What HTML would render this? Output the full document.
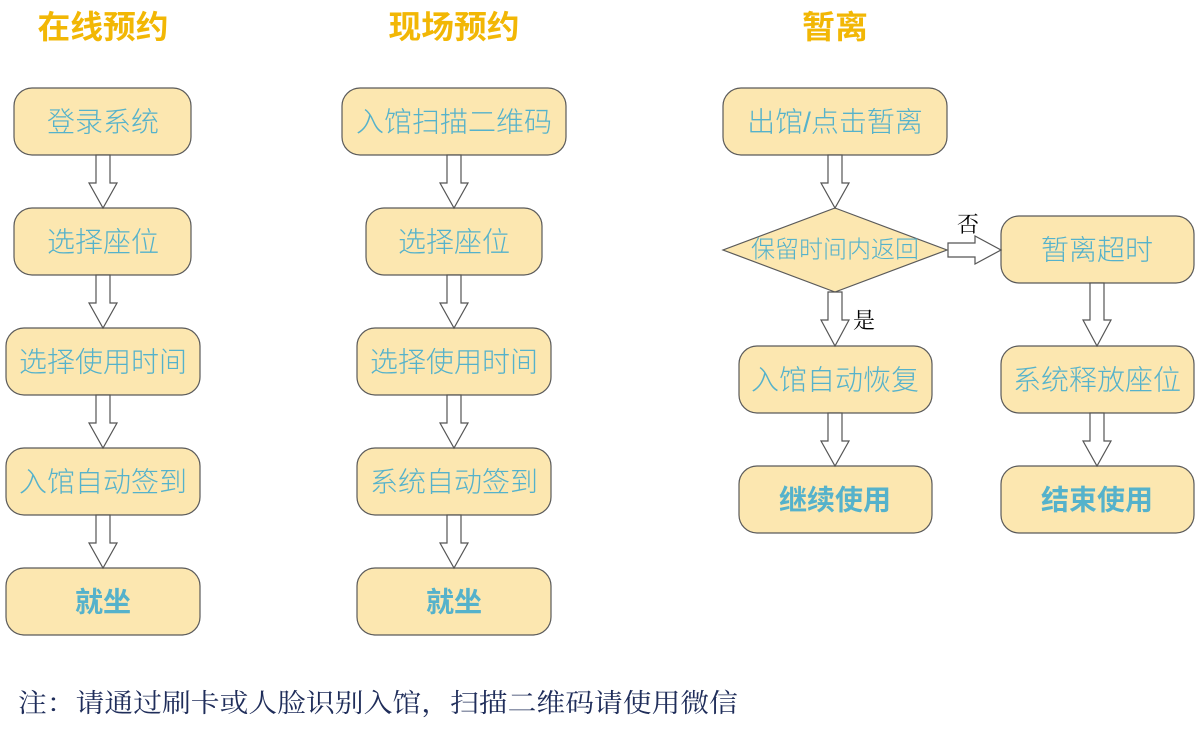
<!DOCTYPE html>
<html><head><meta charset="utf-8"><style>
html,body{margin:0;padding:0;background:#fff;width:1200px;height:732px;overflow:hidden}
svg{display:block}
.n{fill:#fce7b0;stroke:#5a5a5a;stroke-width:1.2}
.t{font-family:"Liberation Sans","Noto Sans CJK SC",sans-serif;font-size:28px;fill:#55b2cb;text-anchor:middle;dominant-baseline:central;font-weight:300}
.b{font-weight:bold}
.h{font-family:"Liberation Sans","Noto Sans CJK SC",sans-serif;font-size:32px;font-weight:bold;fill:#f2b705;text-anchor:middle}
.a{fill:#fff;stroke:#555;stroke-width:1.2}
.l{font-family:"Liberation Serif","Noto Serif CJK SC",serif;font-size:22px;fill:#000}
</style></head><body>
<svg width="1200" height="732" viewBox="0 0 1200 732">
<text class="h" x="103" y="38" textLength="131" lengthAdjust="spacingAndGlyphs">在线预约</text>
<text class="h" x="454" y="38" textLength="131" lengthAdjust="spacingAndGlyphs">现场预约</text>
<text class="h" x="835" y="38" textLength="66" lengthAdjust="spacingAndGlyphs">暂离</text>

<!-- col1 -->
<rect class="n" x="14" y="88" width="177" height="67" rx="18"/><text class="t" x="103" y="122">登录系统</text>
<rect class="n" x="14" y="208" width="177" height="67" rx="18"/><text class="t" x="103" y="242">选择座位</text>
<rect class="n" x="6" y="328" width="194" height="67" rx="18"/><text class="t" x="103" y="362">选择使用时间</text>
<rect class="n" x="6" y="448" width="194" height="67" rx="18"/><text class="t" x="103" y="482">入馆自动签到</text>
<rect class="n" x="6" y="568" width="194" height="67" rx="18"/><text class="t b" x="103" y="602">就坐</text>
<path class="a" d="M96,155 L110,155 L110,183 L117,183 L103,208 L89,183 L96,183 Z"/>
<path class="a" d="M96,275 L110,275 L110,303 L117,303 L103,328 L89,303 L96,303 Z"/>
<path class="a" d="M96,395 L110,395 L110,423 L117,423 L103,448 L89,423 L96,423 Z"/>
<path class="a" d="M96,515 L110,515 L110,543 L117,543 L103,568 L89,543 L96,543 Z"/>

<!-- col2 -->
<rect class="n" x="342" y="88" width="224" height="67" rx="18"/><text class="t" x="454" y="122">入馆扫描二维码</text>
<rect class="n" x="366" y="208" width="176" height="67" rx="18"/><text class="t" x="454" y="242">选择座位</text>
<rect class="n" x="357" y="328" width="194" height="67" rx="18"/><text class="t" x="454" y="362">选择使用时间</text>
<rect class="n" x="357" y="448" width="194" height="67" rx="18"/><text class="t" x="454" y="482">系统自动签到</text>
<rect class="n" x="357" y="568" width="194" height="67" rx="18"/><text class="t b" x="454" y="602">就坐</text>
<path class="a" d="M447,155 L461,155 L461,183 L468,183 L454,208 L440,183 L447,183 Z"/>
<path class="a" d="M447,275 L461,275 L461,303 L468,303 L454,328 L440,303 L447,303 Z"/>
<path class="a" d="M447,395 L461,395 L461,423 L468,423 L454,448 L440,423 L447,423 Z"/>
<path class="a" d="M447,515 L461,515 L461,543 L468,543 L454,568 L440,543 L447,543 Z"/>

<!-- col3 -->
<rect class="n" x="723" y="88" width="224" height="67" rx="18"/><text class="t" x="835" y="122">出馆/点击暂离</text>
<polygon class="n" points="835,208 947,250 835,292 723,250"/>
<text class="t" x="835" y="250" style="font-size:24px">保留时间内返回</text>
<rect class="n" x="1001" y="216" width="193" height="67" rx="18"/><text class="t" x="1097" y="250">暂离超时</text>
<rect class="n" x="739" y="346" width="193" height="67" rx="18"/><text class="t" x="835" y="380">入馆自动恢复</text>
<rect class="n" x="739" y="466" width="193" height="67" rx="18"/><text class="t b" x="835" y="500">继续使用</text>
<rect class="n" x="1001" y="346" width="193" height="67" rx="18"/><text class="t" x="1097" y="380">系统释放座位</text>
<rect class="n" x="1001" y="466" width="193" height="67" rx="18"/><text class="t b" x="1097" y="500">结束使用</text>
<path class="a" d="M828,155 L842,155 L842,183 L849,183 L835,208 L821,183 L828,183 Z"/>
<path class="a" d="M828,292 L842,292 L842,320 L849,320 L835,346 L821,320 L828,320 Z"/>
<path class="a" d="M828,413 L842,413 L842,441 L849,441 L835,466 L821,441 L828,441 Z"/>
<path class="a" d="M1090,283 L1104,283 L1104,320 L1111,320 L1097,346 L1083,320 L1090,320 Z"/>
<path class="a" d="M1090,413 L1104,413 L1104,441 L1111,441 L1097,466 L1083,441 L1090,441 Z"/>
<path class="a" d="M948,243 L975,243 L975,236 L1001,250 L975,264 L975,257 L948,257 Z"/>
<text class="l" x="957" y="232">否</text>
<text class="l" x="853" y="328">是</text>

<text x="18" y="712" textLength="720" lengthAdjust="spacingAndGlyphs" style="font-family:'Liberation Serif','Noto Serif CJK SC',serif;font-size:26px;fill:#1f2d5a">注：请通过刷卡或人脸识别入馆，扫描二维码请使用微信</text>
</svg>
</body></html>
